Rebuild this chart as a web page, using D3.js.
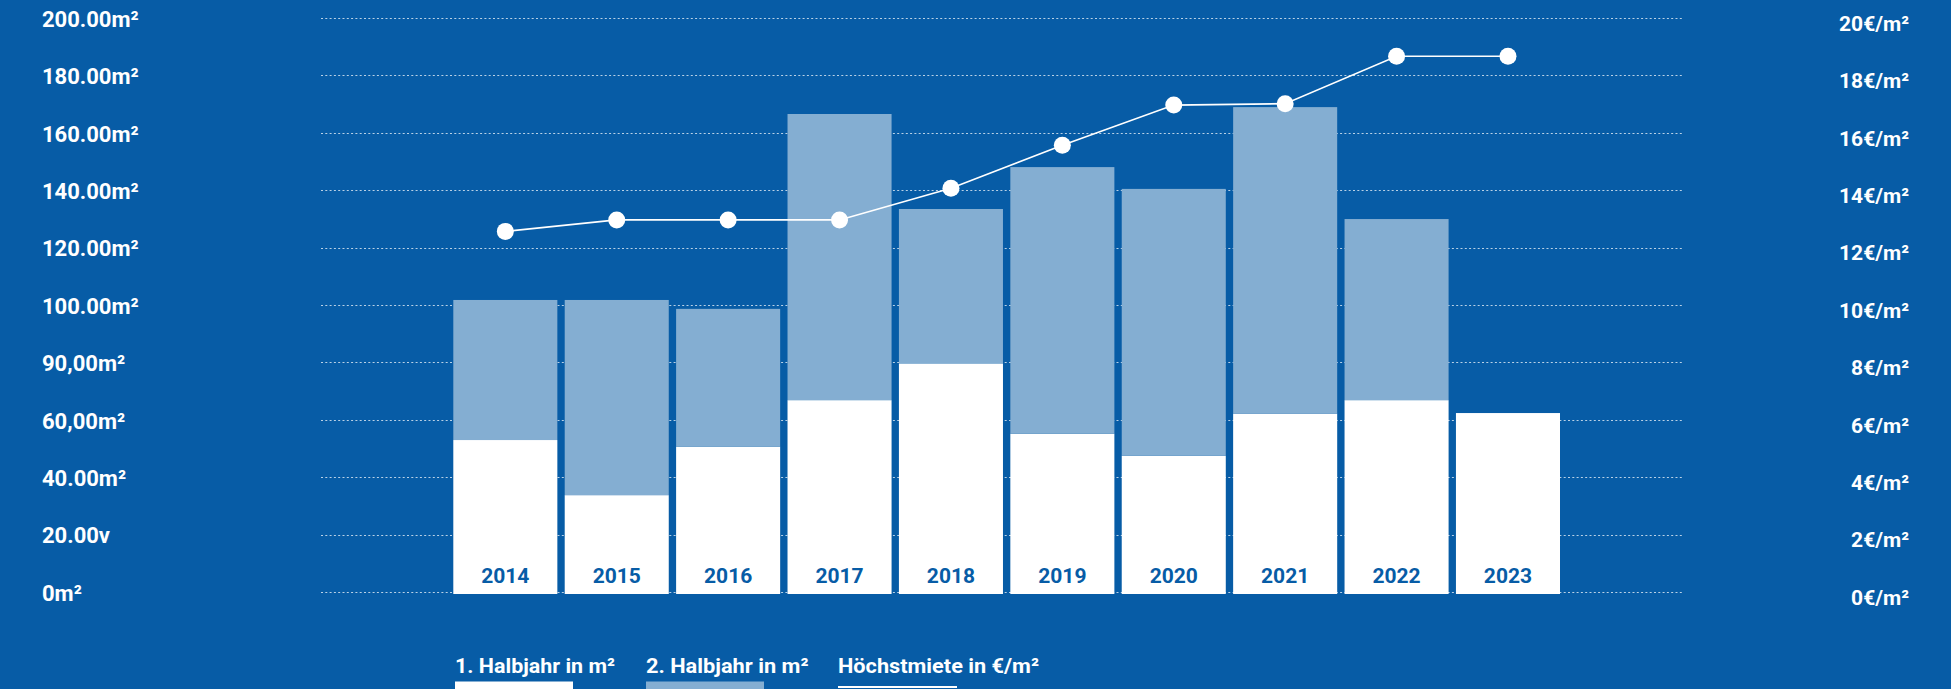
<!DOCTYPE html>
<html>
<head>
<meta charset="utf-8">
<script src="https://cdn.jsdelivr.net/npm/d3@7/dist/d3.min.js"></script>
<style>
  html, body { margin: 0; padding: 0; background: #075ca6; }
  svg { display: block; }
  text { font-family: Roboto, "Noto Sans", sans-serif; font-weight: 700; }
</style>
</head>
<body>
<svg id="chart" width="1951" height="689"></svg>
<script>
// Years shown as bars
const years = ["2014", "2015", "2016", "2017", "2018", "2019", "2020", "2021", "2022", "2023"];
// Leased area, first half of the year (m²)
const firstHalf = [53.3, 34.1, 51.0, 67.2, 80.0, 55.5, 47.8, 62.5, 67.2, 62.7];
// Leased area, second half of the year (m²)
const secondHalf = [48.8, 68.0, 48.0, 99.7, 53.8, 92.9, 93.0, 106.8, 63.1, 0];
// Top rent (€/m²)
const topRent = [12.6, 13.0, 13.0, 13.0, 14.1, 15.6, 17.0, 17.05, 18.7, 18.7];

// Axis ticks and their labels
const areaTicks = [0, 20, 40, 60, 80, 100, 120, 140, 160, 180, 200];
const areaTickLabels = ["0m²", "20.00v", "40.00m²", "60,00m²", "90,00m²", "100.00m²",
                        "120.00m²", "140.00m²", "160.00m²", "180.00m²", "200.00m²"];
const rentTicks = [0, 2, 4, 6, 8, 10, 12, 14, 16, 18, 20];
const rentTickLabels = ["0€/m²", "2€/m²", "4€/m²", "6€/m²", "8€/m²", "10€/m²",
                        "12€/m²", "14€/m²", "16€/m²", "18€/m²", "20€/m²"];

// Legend entries
const legendLabels = ["1. Halbjahr in m²", "2. Halbjahr in m²", "Höchstmiete in €/m²"];

const BG = "#075ca6";
const LIGHT = "#84aed2";

const svg = d3.select("#chart");

const x = d3.scaleBand()
  .domain(years)
  .range([453.3, 1560])
  .paddingInner(0.066)
  .paddingOuter(0);

const yArea = d3.scaleLinear().domain([0, 200]).range([593, 19]);
const yRent = d3.scaleLinear().domain([0, 20]).range([593, 19]);

// Dotted horizontal grid
svg.append("g")
  .selectAll("line")
  .data(areaTicks)
  .join("line")
  .attr("x1", 321)
  .attr("x2", 1682)
  .attr("y1", d => Math.round(yArea(d)) - 0.5)
  .attr("y2", d => Math.round(yArea(d)) - 0.5)
  .attr("stroke", "rgba(255,255,255,0.72)")
  .attr("stroke-width", 1)
  .attr("stroke-dasharray", "2,2.3");

// Left axis: area
const leftAxis = svg.append("g")
  .attr("transform", "translate(42,0)")
  .call(d3.axisLeft(yArea)
    .tickValues(areaTicks)
    .tickSize(0)
    .tickFormat((d, i) => areaTickLabels[i]));
leftAxis.select(".domain").remove();
leftAxis.selectAll("text")
  .attr("x", 0)
  .attr("dy", "0.33em")
  .attr("text-anchor", "start")
  .attr("fill", "#ffffff")
  .style("font-size", "22px")
  .style("font-family", "Roboto, sans-serif")
  .style("font-weight", 700);

// Right axis: rent
const rightAxis = svg.append("g")
  .attr("transform", "translate(1909,0)")
  .call(d3.axisRight(yRent)
    .tickValues(rentTicks)
    .tickSize(0)
    .tickFormat((d, i) => rentTickLabels[i]));
rightAxis.select(".domain").remove();
rightAxis.selectAll("text")
  .attr("x", 0)
  .attr("y", 4)
  .attr("dy", "0.35em")
  .attr("text-anchor", "end")
  .attr("fill", "#ffffff")
  .style("font-size", "21px")
  .style("font-family", "Roboto, sans-serif")
  .style("font-weight", 700);

// Stacked bars
const rows = years.map((y, i) => ({ year: y, h1: firstHalf[i], h2: secondHalf[i] }));
const stacked = d3.stack().keys(["h1", "h2"])(rows);
const fills = { h1: "#ffffff", h2: LIGHT };

svg.append("g")
  .selectAll("g")
  .data(stacked)
  .join("g")
  .attr("fill", s => fills[s.key])
  .selectAll("rect")
  .data(s => s.filter(d => d[1] > d[0]))
  .join("rect")
  .attr("x", d => x(d.data.year))
  .attr("width", x.bandwidth())
  .attr("y", d => yArea(d[1]))
  .attr("height", d => yArea(d[0]) - yArea(d[1]) + (d[0] === 0 ? 1 : 0));

// Year labels inside the bars
svg.append("g")
  .selectAll("text")
  .data(years)
  .join("text")
  .attr("x", d => x(d) + x.bandwidth() / 2)
  .attr("y", 583)
  .attr("text-anchor", "middle")
  .attr("fill", BG)
  .style("font-size", "21px")
  .text(d => d);

// Top rent line
const cx = i => x(years[i]) + x.bandwidth() / 2;
const line = d3.line()
  .x((d, i) => cx(i))
  .y(d => yRent(d));

svg.append("path")
  .datum(topRent)
  .attr("d", line)
  .attr("fill", "none")
  .attr("stroke", "#ffffff")
  .attr("stroke-width", 1.6);

svg.append("g")
  .selectAll("circle")
  .data(topRent)
  .join("circle")
  .attr("cx", (d, i) => cx(i))
  .attr("cy", d => yRent(d))
  .attr("r", 8.5)
  .attr("fill", "#ffffff");

// Legend
const legendX = [455, 646, 838];
const legendW = [160, 162.5, 201];
const legend = svg.append("g");
legend.selectAll("text")
  .data(legendLabels)
  .join("text")
  .attr("x", (d, i) => legendX[i])
  .attr("y", 673)
  .attr("fill", "#ffffff")
  .attr("textLength", (d, i) => legendW[i])
  .attr("lengthAdjust", "spacingAndGlyphs")
  .style("font-size", "21px")
  .text(d => d);

legend.append("rect")
  .attr("x", legendX[0]).attr("y", 681.5)
  .attr("width", 118).attr("height", 14)
  .attr("fill", "#ffffff");
legend.append("rect")
  .attr("x", legendX[1]).attr("y", 681.5)
  .attr("width", 118).attr("height", 14)
  .attr("fill", LIGHT);
legend.append("line")
  .attr("x1", legendX[2]).attr("x2", legendX[2] + 119)
  .attr("y1", 687).attr("y2", 687)
  .attr("stroke", "#ffffff")
  .attr("stroke-width", 2);
</script>
</body>
</html>
